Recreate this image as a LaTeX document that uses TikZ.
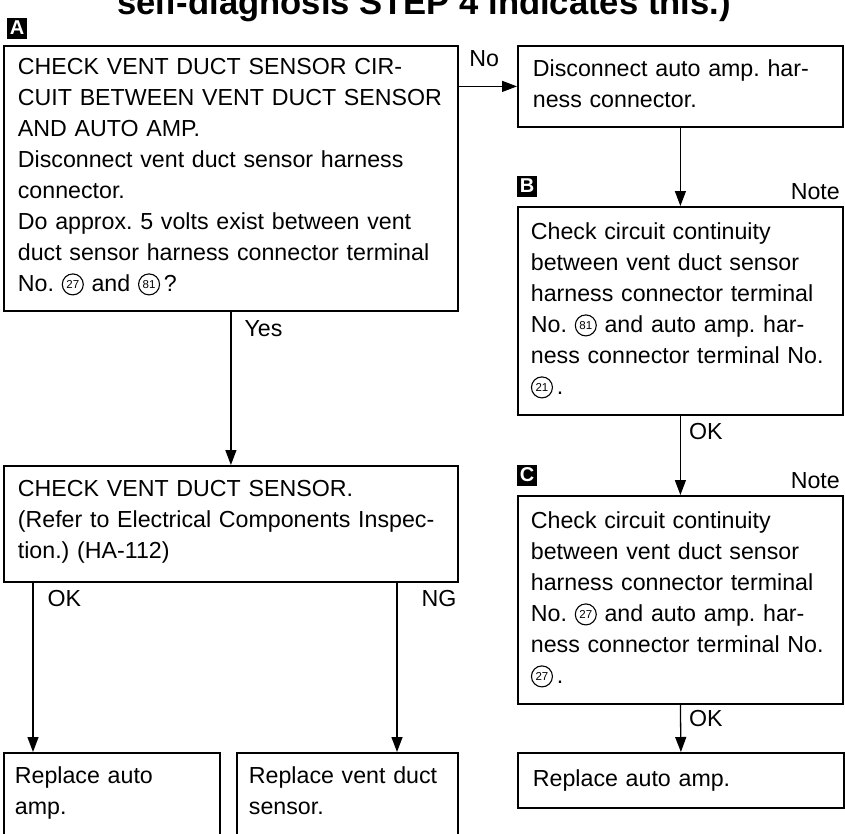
\documentclass[tikz,border=0pt]{standalone}
\usepackage{fontspec}
\setmainfont{Liberation Sans}
\usetikzlibrary{positioning,arrows.meta}
\frenchspacing

% circled terminal number
\newcommand{\cnum}[1]{\tikz[baseline=-7.5pt]\node[circle,draw,line width=1.1pt,anchor=center,inner sep=0pt,
  text width={},text height={},text depth={},align=center,minimum size=21pt,
  font=\fontsize{11.5}{11.5}\selectfont]{#1};}

\tikzset{
  stepbox/.style={draw,line width=1.8pt,anchor=north west,inner xsep=14pt,inner ysep=0pt,align=left},
  marker/.style={fill=black,text=white,inner sep=0pt,minimum width=20pt,minimum height=21pt,
    font=\fontsize{20}{20}\selectfont\bfseries},
  flow/.style={line width=1.3pt,-{Triangle[length=15pt,width=11pt]}},
  lbl/.style={inner sep=0pt,anchor=base west},
}

\begin{document}
\begin{tikzpicture}[x=1pt,y=-1pt,font=\fontsize{23.2}{31}\selectfont]
  \useasboundingbox (0,0) rectangle (845,833);
  \clip (0,0) rectangle (845,833);

  \node[anchor=base,font=\fontsize{34.6}{40}\selectfont\bfseries] (ttl) at (424,14) {self-diagnosis STEP 4 indicates this.)};

  % markers
  \node[marker] (mkA) at (17,28) {A};
  \node[marker] (mkB) at (527,186) {B};
  \node[marker] (mkC) at (527,475) {C};
  \node[lbl,anchor=base east] (noteB) at (840,199) {Note};
  \node[lbl,anchor=base east] (noteC) at (840,488) {Note};

  % boxes
  \node[stepbox,text width=426pt,text height=29pt,text depth=236pt] (chkCkt) at (3,45)
    {CHECK VENT DUCT SENSOR CIR-\\CUIT BETWEEN VENT DUCT SENSOR\\AND AUTO AMP.\\
     Disconnect vent duct sensor harness\\connector.\\
     Do approx. 5 volts exist between vent\\duct sensor harness connector terminal\\
     No. \cnum{27} and \cnum{81}\,?};
  \node[stepbox,inner xsep=15pt,text width=295pt,text height=31pt,text depth=50pt] (discAmp) at (517,45)
    {Disconnect auto amp. har-\\ness connector.};
  \node[stepbox,inner xsep=13pt,text width=299pt,text height=33pt,text depth=175pt] (contB) at (517,206)
    {Check circuit continuity\\between vent duct sensor\\harness connector terminal\\
     No. \cnum{81} and auto amp. har-\\ness connector terminal No.\\\cnum{21}\,.};
  \node[stepbox,inner xsep=13pt,text width=299pt,text height=33pt,text depth=175pt] (contC) at (517,495)
    {Check circuit continuity\\between vent duct sensor\\harness connector terminal\\
     No. \cnum{27} and auto amp. har-\\ness connector terminal No.\\\cnum{27}\,.};
  \node[stepbox,text width=426pt,text height=31pt,text depth=85pt] (chkSens) at (3,465)
    {CHECK VENT DUCT SENSOR.\\(Refer to Electrical Components Inspec-\\tion.) (HA-112)};
  \node[stepbox,inner xsep=11pt,text width=194pt,text height=31pt,text depth=100pt] (repAmpL) at (3,752)
    {Replace auto\\amp.};
  \node[stepbox,inner xsep=12pt,text width=197pt,text height=31pt,text depth=100pt] (repSens) at (236,752)
    {Replace vent duct\\sensor.};
  \node[stepbox,inner xsep=15pt,text width=296pt,text height=34pt,text depth=21pt] (repAmpR) at (517,752)
    {Replace auto amp.};

  % connectors
  \coordinate (okX) at (33,0);
  \coordinate (ngX) at (397,0);
  \draw[flow] (discAmp.west -| chkCkt.east) -- node[lbl,pos=0,xshift=10pt,yshift=20pt] (lNo) {No} (discAmp.west);
  \draw[flow] (chkCkt.south) -- node[lbl,pos=0,xshift=13pt,yshift=-25pt] (lYes) {Yes} (chkSens.north);
  \draw[flow] (discAmp.south) -- (contB.north);
  \draw[flow] (contB.south) -- node[lbl,pos=0,xshift=8pt,yshift=-24pt] (lOkB) {OK} (contC.north);
  \draw[flow] (contC.south) -- node[lbl,pos=0,xshift=8pt,yshift=-22pt] (lOkC) {OK} (repAmpR.north);
  \draw[flow] (chkSens.south -| okX) -- node[lbl,pos=0,xshift=14pt,yshift=-24pt] (lOk) {OK} (repAmpL.north -| okX);
  \draw[flow] (chkSens.south -| ngX) -- node[lbl,pos=0,xshift=24pt,yshift=-24pt] (lNg) {NG} (repSens.north -| ngX);
\end{tikzpicture}
\end{document}
